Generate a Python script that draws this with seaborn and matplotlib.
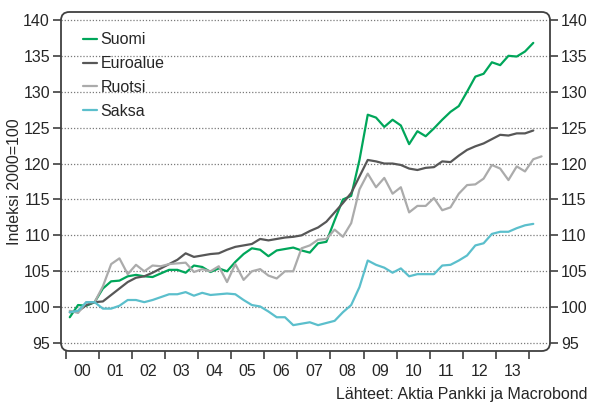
import numpy as np
import pandas as pd
import seaborn as sns
from matplotlib import pyplot as plt
from matplotlib.patches import FancyBboxPatch

# neljannesvuodet 2000Q1 -> 2014Q2 (Ruotsilla yksi havainto enemman)
quarters = pd.period_range('2000Q1', '2014Q2', freq='Q')

suomi = [98.6, 100.3, 100.2, 100.7, 102.6, 103.6, 103.7, 104.3, 104.5, 104.3,
         104.2, 104.7, 105.2, 105.2, 104.8, 105.8, 105.6, 104.9, 105.4, 105.0,
         106.3, 107.4, 108.2, 108.0, 107.1, 107.9, 108.1, 108.3, 107.9, 107.6,
         108.9, 109.1, 112.1, 115.0, 115.5, 120.5, 126.8, 126.4, 125.1, 126.1,
         125.3, 122.7, 124.5, 123.8, 124.9, 126.1, 127.2, 128.0, 130.0, 132.1,
         132.5, 134.1, 133.7, 135.0, 134.9, 135.6, 136.8]
euroalue = [99.3, 99.4, 100.3, 100.7, 100.8, 101.7, 102.6, 103.5, 104.1, 104.3,
            104.8, 105.4, 106.0, 106.6, 107.5, 107.0, 107.2, 107.4, 107.5, 108.0,
            108.4, 108.6, 108.8, 109.5, 109.3, 109.5, 109.7, 109.8, 110.0, 110.6,
            111.1, 111.9, 113.2, 114.5, 115.9, 118.2, 120.5, 120.3, 120.0, 120.0,
            119.8, 119.3, 119.1, 119.4, 119.5, 120.3, 120.2, 121.1, 121.9, 122.4,
            122.8, 123.4, 124.0, 123.9, 124.2, 124.2, 124.6]
ruotsi = [99.5, 99.2, 100.7, 100.7, 102.9, 106.0, 106.8, 104.6, 105.9, 105.0,
          105.8, 105.7, 106.0, 106.1, 106.2, 104.9, 105.3, 105.0, 105.7, 103.5,
          106.0, 103.8, 105.0, 105.3, 104.4, 104.0, 105.0, 105.0, 108.2, 108.6,
          109.4, 109.5, 110.8, 109.8, 111.7, 116.4, 118.6, 116.7, 118.0, 115.8,
          116.7, 113.2, 114.1, 114.1, 115.2, 113.5, 113.9, 115.8, 117.0, 117.1,
          117.9, 119.8, 119.3, 117.7, 119.6, 118.9, 120.6, 121.0]
saksa = [99.3, 99.5, 100.7, 100.7, 99.8, 99.8, 100.2, 101.0, 101.0, 100.7,
         101.0, 101.4, 101.8, 101.8, 102.1, 101.6, 102.0, 101.7, 101.8, 101.9,
         101.8, 101.0, 100.3, 100.1, 99.4, 98.6, 98.6, 97.5, 97.7, 97.9,
         97.5, 97.8, 98.1, 99.3, 100.3, 102.8, 106.5, 105.9, 105.5, 104.8,
         105.4, 104.3, 104.6, 104.6, 104.6, 105.8, 105.9, 106.5, 107.2, 108.6,
         108.9, 110.2, 110.5, 110.5, 111.0, 111.4, 111.6]

vuodet = ['00', '01', '02', '03', '04', '05', '06', '07', '08', '09', '10', '11', '12', '13']
sarjat = ['Suomi', 'Euroalue', 'Ruotsi', 'Saksa']
varit = {'Suomi': '#00a65a', 'Euroalue': '#575757', 'Ruotsi': '#ababab', 'Saksa': '#5bbfcc'}

rows = []
for nimi, arvot in zip(sarjat, [suomi, euroalue, ruotsi, saksa]):
    for p, v in zip(quarters, arvot):
        rows.append((p.year + (p.quarter - 0.5) / 4, v, nimi))
df = pd.DataFrame(rows, columns=['aika', 'indeksi', 'sarja'])

sns.set_style('white')
plt.rcParams['font.family'] = ['Liberation Sans', 'DejaVu Sans']
fs = 11.5

fig = plt.figure(figsize=(5.9, 4.03), dpi=100)
ax = fig.add_axes([61 / 590, 1 - 351 / 403, 489 / 590, 339 / 403])

sns.lineplot(data=df, x='aika', y='indeksi', hue='sarja', hue_order=sarjat,
             palette=varit, linewidth=1.6, ax=ax, zorder=3)

ax.set_xlim(1999.86, 2014.63)
ax.set_ylim(93.9, 141.1)
ax.set_yticks(range(95, 141, 5))
ax.set_xticks(range(2000, 2015))
ax.set_xticklabels([])
ax.set_xticks([2000.5 + i for i in range(len(vuodet))], minor=True)
ax.set_xticklabels(vuodet, minor=True)

ax.tick_params(axis='x', which='major', bottom=True, length=6, width=1.2,
               color='#404040', direction='out')
ax.tick_params(axis='x', which='minor', bottom=True, length=0, pad=9, labelsize=fs)
ax.tick_params(axis='y', left=True, right=True, labelleft=True, labelright=True,
               length=6, width=1.2, color='#404040', direction='out', pad=2,
               labelsize=fs)

ax.grid(False)
ax.yaxis.grid(True, linestyle=(0, (1, 1.5)), color='#7a7a7a', linewidth=0.9)
for s in ax.spines.values():
    s.set_visible(False)

kehys = FancyBboxPatch((0, 0), 1, 1, boxstyle='round,pad=0,rounding_size=0.017',
                       transform=ax.transAxes, mutation_aspect=489 / 339,
                       fill=False, ec='#404040', lw=1.3, clip_on=False, zorder=5)
ax.add_patch(kehys)

ax.set_xlabel('')
ax.set_ylabel('Indeksi 2000=100', fontsize=fs)
ax.yaxis.set_label_coords(-0.08, 0.5)

h, l = ax.get_legend_handles_labels()
ax.legend(h, l, loc='upper left', bbox_to_anchor=(0.045, 0.94), frameon=False,
          handlelength=0.9, handletextpad=0.2, labelspacing=0.55, borderpad=0,
          borderaxespad=0, fontsize=fs)

fig.text(0.995, 1 - 395 / 403, 'Lähteet: Aktia Pankki ja Macrobond',
         ha='right', va='center', fontsize=fs)

fig.savefig('out.png', dpi=100)
